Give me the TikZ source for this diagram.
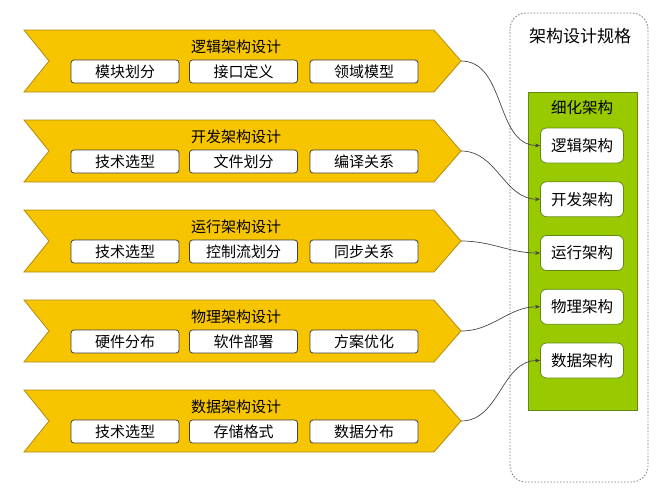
\documentclass[tikz,border=0pt]{standalone}
\usepackage{fontspec}
\setmainfont{Noto Sans CJK SC}
\usepackage{tikz}
\usetikzlibrary{positioning,arrows.meta}
\definecolor{gold}{RGB}{247,196,0}
\definecolor{golddark}{RGB}{178,140,20}
\definecolor{leaf}{RGB}{153,202,0}
\definecolor{leafdark}{RGB}{96,138,20}
\definecolor{wire}{RGB}{70,70,70}

\begin{document}
\begin{tikzpicture}[x=1pt,y=-1pt,
  task/.style={draw=black!75,fill=white,line width=0.8pt,rounded corners=3pt,minimum width=108pt,minimum height=23pt,inner sep=0pt,font=\fontsize{15}{17}\selectfont},
  view/.style={draw=leafdark,fill=white,line width=0.8pt,rounded corners=6pt,minimum width=83pt,minimum height=35pt,inner sep=0pt,font=\fontsize{15.5}{17}\selectfont},
  link/.style={wire,line width=0.7pt,-{Stealth[length=5pt,width=4pt]}}]
\useasboundingbox (0,0) rectangle (665,496);
% spec frame (dashed)
\draw[gray,line width=0.8pt,dash pattern=on 1.6pt off 1.6pt,rounded corners=16pt] (510,13) rectangle (648,482);
\node[font=\fontsize{17}{19}\selectfont] (spec) at (580,36) {架构设计规格};
% refined views (green)
\draw[draw=leafdark,fill=leaf,line width=0.8pt] (528,92) rectangle (637,410);
\node[font=\fontsize{15.5}{17}\selectfont] (refined) at (582,108) {细化架构};
\foreach \i/\v [evaluate=\i as \yv using {145.5+53.75*(\i-1)}] in {1/逻辑架构,2/开发架构,3/运行架构,4/物理架构,5/数据架构}
  \node[view] (v\i) at (582,\yv) {\v};
% design chevrons
\foreach \i/\t/\a/\b/\c [evaluate=\i as \yc using {61+90*(\i-1)}] in {
  1/逻辑架构设计/模块划分/接口定义/领域模型,
  2/开发架构设计/技术选型/文件划分/编译关系,
  3/运行架构设计/技术选型/控制流划分/同步关系,
  4/物理架构设计/硬件分布/软件部署/方案优化,
  5/数据架构设计/技术选型/存储格式/数据分布} {
  \draw[draw=golddark,fill=gold,line width=0.8pt] (24,\yc-31) -- (434,\yc-31) -- (461,\yc)
    -- (434,\yc+31) -- (24,\yc+31) -- (49,\yc) -- cycle;
  \coordinate (tip\i) at (461,\yc);
  \node[font=\fontsize{15}{17}\selectfont] (d\i) at (236,\yc-14) {\t};
  \node[task] (a\i) at (125,\yc+10.5) {\a};
  \node[task] (b\i) at (243.5,\yc+10.5) {\b};
  \node[task] (c\i) at (364,\yc+10.5) {\c};
  \draw[link] (tip\i) to[out=0,in=180] (v\i.west);
}
\end{tikzpicture}
\end{document}
